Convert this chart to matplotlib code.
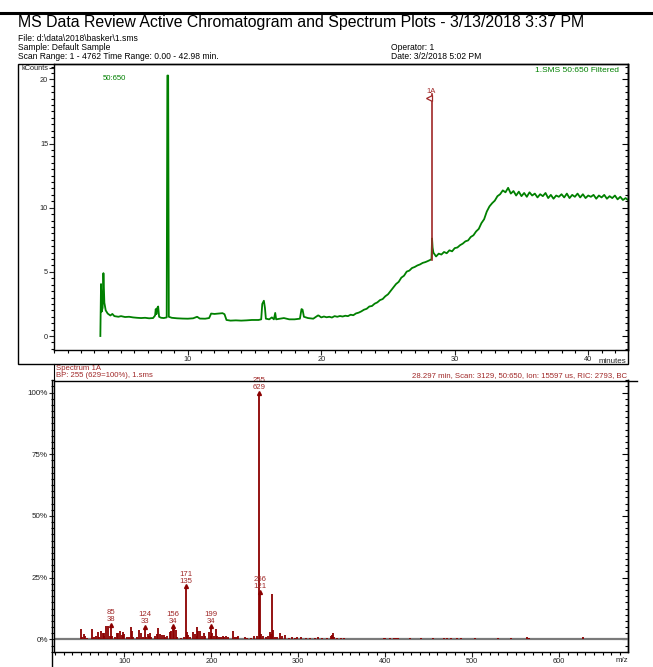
import matplotlib
matplotlib.use("Agg")
import matplotlib.pyplot as plt
from matplotlib.lines import Line2D
from matplotlib.patches import Rectangle
from matplotlib.ticker import MultipleLocator, NullFormatter

plt.rcParams['font.family'] = ['Liberation Sans', 'DejaVu Sans']

# ---------------- data ----------------
chrom_t = [3.45, 3.50, 3.55, 3.62, 3.68, 3.75, 3.85, 4.0, 4.2, 4.35, 4.5, 4.8, 5.0, 5.3, 5.6,
           5.9, 6.2, 6.5, 6.8, 7.1, 7.4, 7.55, 7.6, 7.65, 7.72, 7.78, 7.85, 8.0, 8.2, 8.42,
           8.47, 8.53, 8.58, 8.8, 9.2, 9.6, 10.0, 10.4, 10.7, 10.9, 11.3, 11.6, 11.75, 12.0,
           12.3, 12.6, 12.75, 12.9, 13.2, 13.6, 14.0, 14.4, 14.8, 15.3, 15.5, 15.58, 15.7,
           15.78, 15.85, 16.1, 16.3, 16.45, 16.55, 16.62, 16.9, 17.2, 17.6, 18.0, 18.4, 18.52,
           18.6, 18.7, 19.0, 19.4, 19.75,
           19.8, 20.0, 20.2, 20.4, 20.6, 20.8, 21.0, 21.2, 21.4, 21.6, 21.8, 22.0, 22.2, 22.4,
           22.6, 22.8, 23.0, 23.2, 23.4, 23.6, 23.8, 24.0, 24.2, 24.4, 24.6, 24.8, 25.0, 25.2,
           25.4, 25.6, 25.8, 26.0, 26.2, 26.4, 26.6, 26.8, 27.0, 27.2, 27.4, 27.6, 27.8, 28.0,
           28.2, 28.26, 28.3, 28.34, 28.4, 28.6, 28.8, 29.0, 29.2, 29.4, 29.6, 29.8, 30.0, 30.2,
           30.4, 30.6, 30.8, 31.0, 31.2, 31.4, 31.6, 31.8, 32.0, 32.2, 32.4, 32.6, 32.8, 33.0,
           33.2, 33.4, 33.6, 33.8, 34.0, 34.2, 34.4, 34.6, 34.8, 35.0, 35.2, 35.4, 35.6, 35.8,
           36.0, 36.2, 36.4, 36.6, 36.8, 37.0, 37.2, 37.4, 37.6, 37.8, 38.0, 38.2, 38.4, 38.6,
           38.8, 39.0, 39.2, 39.4, 39.6, 39.8, 40.0, 40.2, 40.4, 40.6, 40.8, 41.0, 41.2, 41.4,
           41.6, 41.8, 42.0, 42.2, 42.4, 42.6, 42.8, 42.98]
chrom_v = [0.0, 4.05, 1.9, 2.2, 4.9, 2.6, 2.0, 1.75, 1.6, 1.72, 1.55, 1.5, 1.55, 1.48, 1.5,
           1.45, 1.42, 1.4, 1.42, 1.38, 1.4, 1.6, 2.1, 1.7, 2.2, 2.3, 1.5, 1.42, 1.4, 1.45,
           20.3, 20.3, 1.5, 1.42, 1.38, 1.36, 1.35, 1.38, 1.5, 1.36, 1.35, 1.4, 1.75, 1.72,
           1.75, 1.78, 1.7, 1.25, 1.2, 1.22, 1.2, 1.22, 1.25, 1.25, 1.3, 2.5, 2.75,
           2.2, 1.35, 1.3, 1.45, 1.3, 1.8, 1.3, 1.35, 1.4, 1.3, 1.3, 1.35, 2.1,
           2.05, 1.5, 1.4, 1.35, 1.6,
           1.60, 1.45, 1.52, 1.46, 1.50, 1.44, 1.55, 1.50, 1.56, 1.52, 1.58, 1.55, 1.66, 1.62,
           1.76, 1.82, 1.92, 2.05, 2.12, 2.30, 2.34, 2.52, 2.62, 2.80, 2.88, 3.10, 3.25, 3.52,
           3.80, 4.05, 4.22, 4.55, 4.70, 5.02, 5.10, 5.30, 5.38, 5.50, 5.58, 5.70, 5.76, 5.85,
           5.95, 6.0, 7.6, 6.9, 6.5, 6.20, 6.42, 6.35, 6.55, 6.45, 6.68, 6.60, 6.85, 6.90,
           7.08, 7.20, 7.38, 7.45, 7.72, 7.85, 8.15, 8.35, 8.80, 9.10, 9.70, 10.10, 10.35, 10.55,
           10.90, 11.05, 11.35, 11.20, 11.55, 11.10, 11.30, 10.95, 11.25, 10.90, 11.15, 10.85, 11.20, 10.95,
           11.10, 10.80, 11.05, 10.90, 11.15, 10.75, 11.00, 10.70, 10.95, 10.85, 11.05, 10.80, 11.10, 10.75,
           11.00, 10.85, 11.10, 10.80, 11.05, 10.75, 10.95, 10.85, 11.00, 10.70, 10.95, 10.80, 11.00, 10.70,
           10.90, 10.75, 10.95, 10.65, 10.85, 10.60, 10.75, 10.60]

marker_time = 28.297
marker_low = 5.95
marker_high = 18.9

spec_mz = [50, 51, 53, 55, 57, 63, 65, 67, 69, 71, 73, 75, 76, 77, 79, 81, 83, 85, 86, 89,
           91, 93, 95, 97, 98, 99, 103, 105, 107, 109, 110, 115, 117, 119, 121, 124, 125, 127,
           128, 129, 131, 135, 137, 139, 141, 143, 145, 147, 149, 152, 154, 156, 157, 159, 161,
           165, 169, 171, 172, 173, 175, 179, 181, 183, 184, 185, 187, 189, 191, 193, 197, 199,
           200, 201, 203, 205, 207, 209, 211, 213, 215, 217, 219, 225, 227, 229, 231, 239, 241,
           245, 249, 253, 255, 256, 257, 259, 263, 265, 267, 269, 270, 271, 273, 275, 279, 281,
           285, 289, 293, 296, 299, 303, 309, 313, 319, 323, 327, 333, 338, 339, 340, 341, 345,
           349, 353, 398, 400, 405, 410, 412, 415, 428, 441, 455, 467, 471, 476, 483, 487, 503,
           530, 545, 563, 565, 627]
spec_pct = [4.3, 1.0, 2.0, 1.2, 0.6, 4.2, 1.0, 1.2, 2.9, 0.8, 3.2, 2.4, 2.6, 1.3, 5.5, 5.6, 1.2, 6.0, 1.2, 1.0,
            2.5, 2.6, 3.5, 1.8, 2.9, 2.3, 1.0, 0.9, 4.9, 3.4, 1.0, 1.0, 3.6, 2.5, 0.9, 5.2, 1.0, 2.1,
            1.3, 2.5, 0.8, 1.4, 2.0, 4.5, 2.0, 1.6, 1.8, 1.0, 1.2, 3.0, 3.3, 5.4, 4.0, 3.6, 0.8,
            0.7, 1.0, 21.5, 3.0, 1.6, 0.8, 3.0, 2.2, 5.0, 1.2, 3.2, 3.3, 1.5, 2.4, 1.5, 3.0, 5.4,
            1.3, 2.5, 1.5, 4.0, 1.2, 1.0, 0.8, 1.4, 1.1, 1.3, 0.9, 3.5, 1.0, 0.9, 1.3, 0.8, 0.6,
            0.7, 1.5, 1.2, 100.0, 19.2, 2.0, 1.2, 1.0, 1.5, 3.0, 2.2, 18.5, 3.8, 1.0, 0.8, 2.5, 1.5,
            1.6, 0.6, 1.0, 0.5, 0.8, 0.9, 0.6, 0.7, 0.5, 0.8, 0.7, 0.6, 1.5, 1.8, 2.6, 0.8, 0.6,
            0.5, 0.5, 0.6, 0.4, 0.5, 0.5, 0.6, 0.6, 0.4, 0.4, 0.4, 0.5, 0.5, 0.4, 0.6, 0.4, 0.4,
            0.4, 0.4, 1.0, 0.5, 0.8]

label_mz = [85, 124, 156, 171, 199, 255, 256]
label_counts = [38, 33, 34, 135, 34, 629, 121]
label_pct = [6.0, 5.2, 5.4, 21.5, 5.4, 100.0, 19.2]

chrom_yticks = [0, 5, 10, 15, 20]
chrom_xticks = [10, 20, 30, 40]
spec_yticks = [0, 25, 50, 75, 100]
spec_ytick_labels = ['0%', '25%', '50%', '75%', '100%']
spec_xticks = [100, 200, 300, 400, 500, 600]

# ---------------- figure ----------------
W, H = 653, 667
fig = plt.figure(figsize=(W / 100, H / 100), dpi=100)
GREEN = '#008000'
RED = '#a02828'
BAR = '#8b0000'
TXT = '#222222'


def fx(px):
    return px / W


def fy(py):
    return 1 - py / H


# top rule
fig.add_artist(Line2D([0, 1], [fy(12.5), fy(12.5)], color='black', lw=2.2))
fig.text(fx(18), fy(22), 'MS Data Review Active Chromatogram and Spectrum Plots - 3/13/2018 3:37 PM',
         fontsize=11.45, va='center', ha='left', color='black')
hfs = 6.15
fig.text(fx(18), fy(38.5), 'File: d:\\data\\2018\\basker\\1.sms', fontsize=hfs, va='center')
fig.text(fx(18), fy(47.5), 'Sample: Default Sample', fontsize=hfs, va='center')
fig.text(fx(18), fy(56.5), 'Scan Range: 1 - 4762 Time Range: 0.00 - 42.98 min.', fontsize=hfs, va='center')
fig.text(fx(391), fy(47.5), 'Operator: 1', fontsize=hfs, va='center')
fig.text(fx(391), fy(56.5), 'Date: 3/2/2018 5:02 PM', fontsize=hfs, va='center')

# outer box of chromatogram
fig.add_artist(Rectangle((fx(17.5), fy(364)), fx(628) - fx(17.5), fy(64) - fy(364),
                         fill=False, edgecolor='black', lw=1.0))

tfs = 5.3


def right_ticks(ax, major, minor_step):
    sec = ax.secondary_yaxis('right')
    sec.set_yticks(major)
    sec.yaxis.set_minor_locator(MultipleLocator(minor_step))
    sec.yaxis.set_major_formatter(NullFormatter())
    sec.tick_params(which='major', direction='in', length=4, width=0.8)
    sec.tick_params(which='minor', direction='in', length=2, width=0.8)
    sec.spines['right'].set_linewidth(1.0)
    return sec


# ---------------- chromatogram ----------------
ax1 = fig.add_axes([fx(54.3), fy(350), fx(628) - fx(54.3), fy(64) - fy(350)])
ax1.plot(chrom_t, chrom_v, color=GREEN, lw=1.3)
ax1.plot([marker_time, marker_time], [marker_low, marker_high], color=RED, lw=1.2)
ax1.plot([marker_time - 0.22], [marker_high - 0.35], marker='<', ms=5, mfc='white', mec=RED, mew=0.9)
ax1.text(marker_time - 0.05, marker_high - 0.12, '1A', color=RED, fontsize=5.5, ha='center', va='bottom')
ax1.set_xlim(0, 42.98)
ax1.set_ylim(-1.09, 21.2)
ax1.set_yticks(chrom_yticks + [20.9])
ax1.set_yticklabels([str(v) for v in chrom_yticks] + ['kCounts'])
ax1.yaxis.set_minor_locator(MultipleLocator(0.5))
ax1.set_xticks(chrom_xticks)
ax1.xaxis.set_minor_locator(MultipleLocator(1))
ax1.tick_params(axis='both', which='major', labelsize=tfs, length=3.5, width=0.8, pad=1, colors=TXT)
ax1.tick_params(axis='both', which='minor', length=2, width=0.8)
ax1.tick_params(axis='both', which='both', direction='out')
for s in ax1.spines.values():
    s.set_linewidth(1.0)
right_ticks(ax1, chrom_yticks, 0.5)
ax1.text(0.085, 0.95, '50:650', transform=ax1.transAxes, color=GREEN, fontsize=5.6, ha='left', va='center')
ax1.text(0.985, 0.978, '1.SMS 50:650 Filtered', transform=ax1.transAxes, color=GREEN, fontsize=6.0,
         ha='right', va='center')
fig.text(fx(626), fy(361.5), 'minutes', fontsize=5.8, ha='right', va='center', color=TXT)

# ---------------- spectrum ----------------
ax2 = fig.add_axes([fx(54.3), fy(651.7), fx(628) - fx(54.3), fy(380) - fy(651.7)])
ax2.axhline(0, color='#7a7a7a', lw=1.6, zorder=1)
ax2.vlines(spec_mz, 0, spec_pct, color=BAR, lw=1.3, zorder=2)
for mz, cnt, p in zip(label_mz, label_counts, label_pct):
    ax2.plot([mz], [p], marker='^', ms=2.8, color=BAR, zorder=3)
    ax2.text(mz, p + 0.6, f'{mz}\n{cnt}', color=RED, fontsize=5.6, ha='center', va='bottom',
             linespacing=1.0, zorder=4)
ax2.set_xlim(19.3, 679.2)
ax2.set_ylim(-5.0, 105.1)
ax2.set_yticks(spec_yticks)
ax2.set_yticklabels(spec_ytick_labels)
ax2.yaxis.set_minor_locator(MultipleLocator(2.5))
ax2.set_xticks(spec_xticks)
ax2.xaxis.set_minor_locator(MultipleLocator(10))
ax2.tick_params(axis='both', which='major', labelsize=tfs, length=3.5, width=0.8, pad=1, colors=TXT)
ax2.tick_params(axis='y', which='major', labelsize=5.8)
ax2.tick_params(axis='both', which='minor', length=2, width=0.8)
ax2.tick_params(axis='both', which='both', direction='out')
ax2.spines['top'].set_visible(False)
for s in ax2.spines.values():
    s.set_linewidth(1.0)
right_ticks(ax2, spec_yticks, 2.5)
fig.add_artist(Line2D([fx(54.3), fx(637)], [fy(380.5), fy(380.5)], color='black', lw=1.0))
fig.add_artist(Line2D([fx(51.5), fx(51.5)], [fy(380), 0], color='black', lw=1.0))
fig.add_artist(Line2D([fx(54.3), fx(54.3)], [fy(364), fy(380)], color='black', lw=0.8))
fig.text(fx(56), fy(368), 'Spectrum 1A', color=RED, fontsize=5.6, ha='left', va='center')
fig.text(fx(56), fy(375.5), 'BP: 255 (629=100%), 1.sms', color=RED, fontsize=5.6, ha='left', va='center')
fig.text(fx(627), fy(375.5), '28.297 min, Scan: 3129, 50:650, Ion: 15597 us, RIC: 2793, BC', color=RED,
         fontsize=5.6, ha='right', va='center')
fig.text(fx(628), fy(661), 'm/z', fontsize=5.6, ha='right', va='center', color=TXT)

fig.savefig('out.png', dpi=100)
